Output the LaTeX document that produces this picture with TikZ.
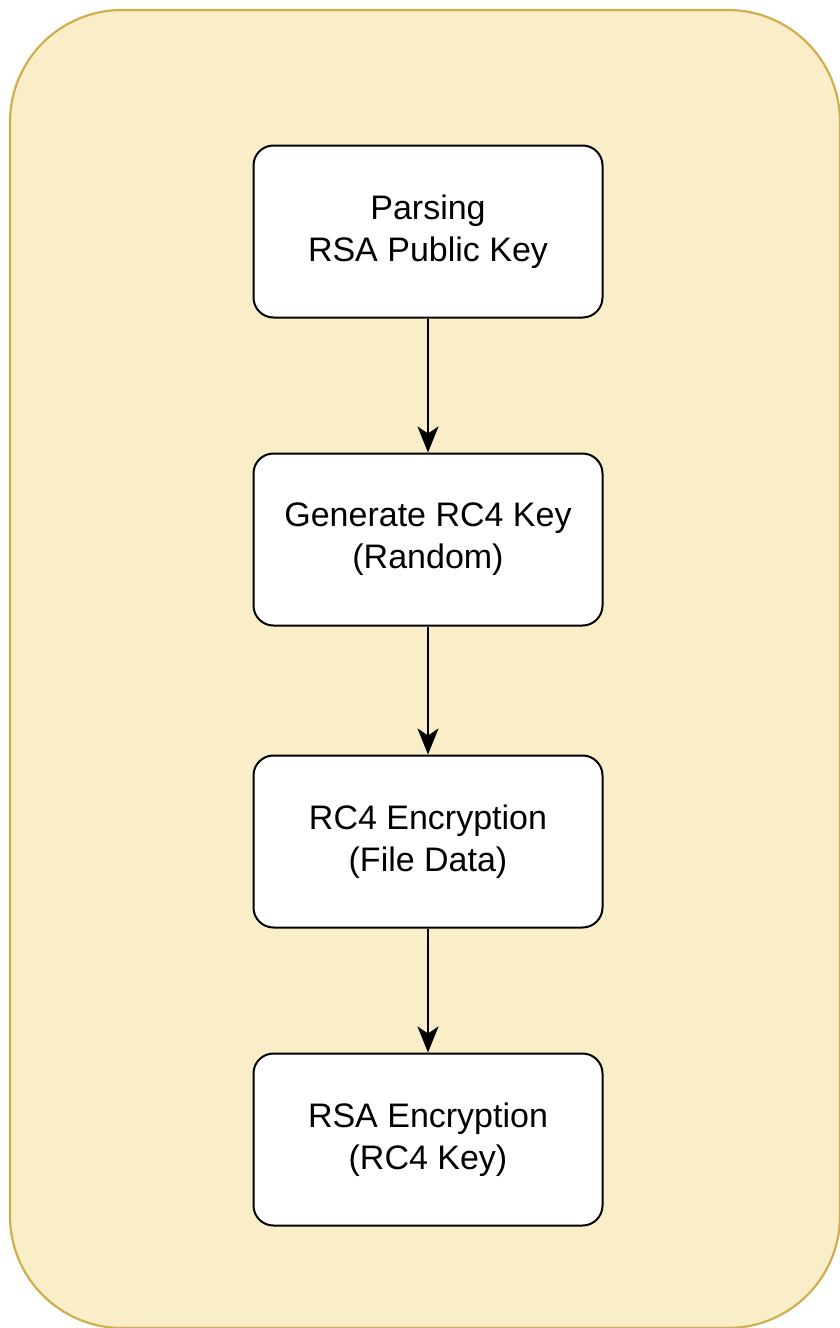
\documentclass[tikz,border=0pt]{standalone}
\usepackage{fontspec}
\setmainfont{Liberation Sans}
\usetikzlibrary{arrows.meta}
\definecolor{bgfill}{HTML}{FAEEC8}
\definecolor{bgdraw}{HTML}{D0AE50}
\begin{document}
\begin{tikzpicture}[x=1pt,y=-1pt,
  stepbox/.style={draw=black, fill=white, line width=2pt, rounded corners=20pt,
    minimum width=349pt, minimum height=172pt, align=center, inner sep=0pt,
    font=\fontsize{34}{42}\selectfont},
  conn/.style={draw=black, line width=2pt, -{Stealth[length=26pt,width=21pt,inset=7pt]}}]
\useasboundingbox (0,0) rectangle (839,1328);
\node[draw=bgdraw, fill=bgfill, line width=2.2pt, rounded corners=112pt,
  minimum width=830pt, minimum height=1318pt, inner sep=0pt] (bg) at (425,669) {};
\node[stepbox] (a) at (428,231.5) {Parsing\\RSA Public Key};
\node[stepbox] (b) at (428,539.5) {Generate RC4 Key\\(Random)};
\node[stepbox] (c) at (428,841.5) {RC4 Encryption\\(File Data)};
\node[stepbox] (d) at (428,1139.5) {RSA Encryption\\(RC4 Key)};
\draw[conn] (a) -- (b);
\draw[conn] (b) -- (c);
\draw[conn] (c) -- (d);
\end{tikzpicture}
\end{document}
